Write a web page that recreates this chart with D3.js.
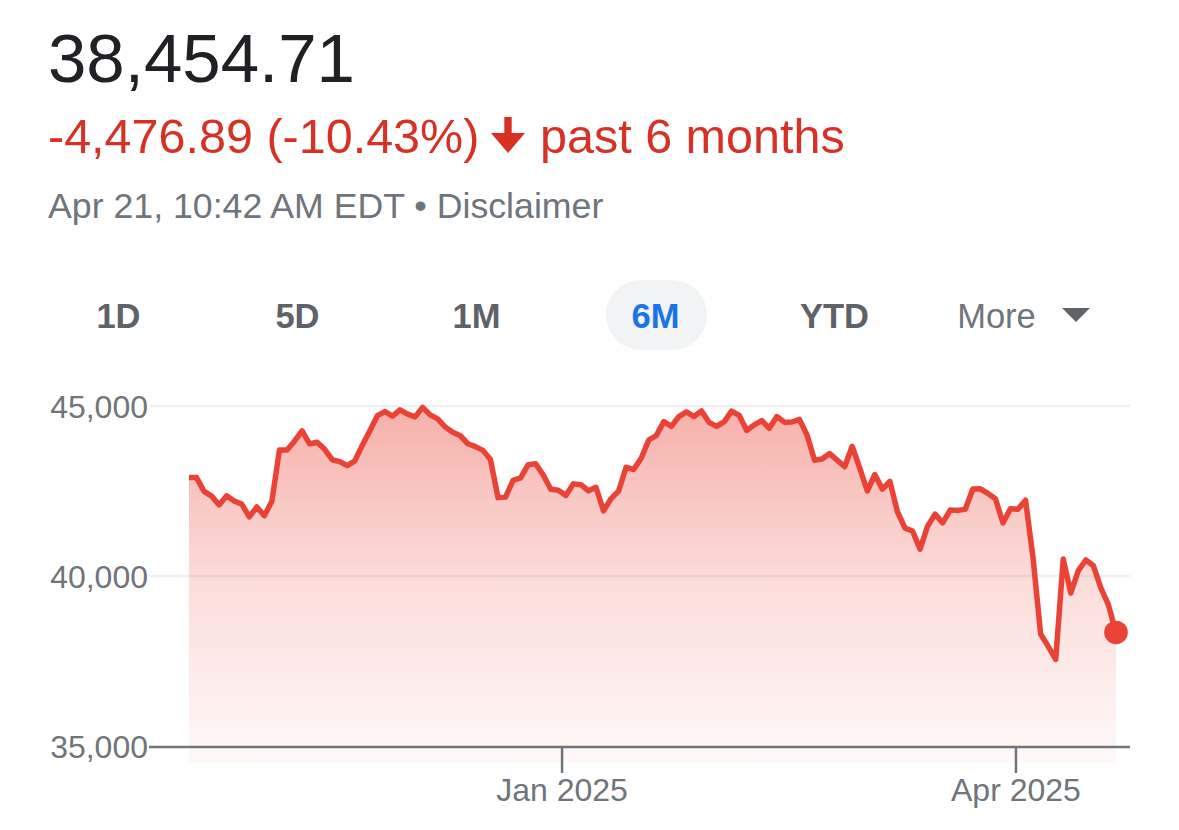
<!DOCTYPE html>
<html>
<head>
<meta charset="utf-8">
<script src="https://cdn.jsdelivr.net/npm/d3@7/dist/d3.min.js"></script>
<style>
  html, body { margin: 0; padding: 0; background: #fff; }
  svg { display: block; font-family: Arial, "Liberation Sans", Helvetica, sans-serif; }
</style>
</head>
<body>
<svg id="chart" width="1179" height="830"></svg>
<script>
// ---- Data ----
const priceText = "38,454.71";
const changeText = "-4,476.89 (-10.43%)";
const periodText = "past 6 months";
const timestampText = "Apr 21, 10:42 AM EDT • Disclaimer";
const rangeButtons = ["1D", "5D", "1M", "6M", "YTD", "More"];
const activeButton = "6M";

const dates = [
  "2024-10-21","2024-10-22","2024-10-23","2024-10-24","2024-10-25","2024-10-28","2024-10-29","2024-10-30","2024-10-31",
  "2024-11-01","2024-11-04","2024-11-05","2024-11-06","2024-11-07","2024-11-08","2024-11-11","2024-11-12","2024-11-13","2024-11-14","2024-11-15",
  "2024-11-18","2024-11-19","2024-11-20","2024-11-21","2024-11-22","2024-11-25","2024-11-26","2024-11-27","2024-11-29",
  "2024-12-02","2024-12-03","2024-12-04","2024-12-05","2024-12-06","2024-12-09","2024-12-10","2024-12-11","2024-12-12","2024-12-13",
  "2024-12-16","2024-12-17","2024-12-18","2024-12-19","2024-12-20","2024-12-23","2024-12-24","2024-12-26","2024-12-27","2024-12-30","2024-12-31",
  "2025-01-02","2025-01-03","2025-01-06","2025-01-07","2025-01-08","2025-01-10","2025-01-13","2025-01-14","2025-01-15","2025-01-16","2025-01-17",
  "2025-01-21","2025-01-22","2025-01-23","2025-01-24","2025-01-27","2025-01-28","2025-01-29","2025-01-30","2025-01-31",
  "2025-02-03","2025-02-04","2025-02-05","2025-02-06","2025-02-07","2025-02-10","2025-02-11","2025-02-12","2025-02-13","2025-02-14",
  "2025-02-18","2025-02-19","2025-02-20","2025-02-21","2025-02-24","2025-02-25","2025-02-26","2025-02-27","2025-02-28",
  "2025-03-03","2025-03-04","2025-03-05","2025-03-06","2025-03-07","2025-03-10","2025-03-11","2025-03-12","2025-03-13","2025-03-14",
  "2025-03-17","2025-03-18","2025-03-19","2025-03-20","2025-03-21","2025-03-24","2025-03-25","2025-03-26","2025-03-27","2025-03-28","2025-03-31",
  "2025-04-01","2025-04-02","2025-04-03","2025-04-04","2025-04-07","2025-04-08","2025-04-09","2025-04-10","2025-04-11",
  "2025-04-14","2025-04-15","2025-04-16","2025-04-17","2025-04-21"
];
const values = [
  42900,42895,42490,42350,42090,42360,42205,42115,41740,
  42030,41770,42200,43705,43705,43965,44270,43885,43935,43725,43420,
  43365,43245,43385,43845,44275,44715,44835,44700,44885,
  44760,44680,44960,44740,44620,44380,44225,44125,43890,43805,
  43695,43425,42305,42320,42815,42885,43275,43300,42970,42550,42520,
  42370,42710,42685,42505,42610,41915,42275,42495,43200,43130,43465,
  44000,44130,44540,44400,44690,44825,44690,44855,44520,
  44400,44535,44850,44725,44280,44445,44570,44345,44690,44525,
  44530,44605,44150,43405,43440,43600,43410,43215,43815,
  43170,42500,42985,42555,42780,41890,41410,41325,40790,41465,
  41820,41560,41940,41930,41960,42560,42565,42430,42275,41560,41980,
  41965,42230,40520,38295,37930,37545,40500,39500,40160,
  40470,40300,39640,39150,38340
];
const yTicks = [35000, 40000, 45000];
const xTickLabels = ["Jan 2025", "Apr 2025"];
const xTickBoundaries = ["2025-01-02", "2025-04-01"]; // first trading day of month

// ---- Layout ----
const svg = d3.select("#chart");
const plot = { left: 189, right: 1116, top: 406, bottom: 746 };
const axisX0 = 149, axisX1 = 1130;
const red = "#ea4335";

const x = d3.scaleLinear().domain([0, values.length - 1]).range([plot.left, plot.right]);
const y = d3.scaleLinear().domain([35000, 45000]).range([plot.bottom, plot.top]);

// ---- Header ----
svg.append("text").attr("x", 48).attr("y", 82)
  .attr("font-size", 69).attr("fill", "#202124").text(priceText);

svg.append("text").attr("x", 48).attr("y", 153)
  .attr("font-size", 48.5).attr("fill", "#d93025").text(changeText);
// down arrow
svg.append("path")
  .attr("d", "M504.3,117 H511.7 V133 H525 L508,153 L491,133 H504.3 Z")
  .attr("fill", "#d93025");
svg.append("text").attr("x", 540).attr("y", 153)
  .attr("font-size", 48.5).attr("fill", "#d93025").text(periodText);

svg.append("text").attr("x", 48).attr("y", 218)
  .attr("font-size", 35.7).attr("fill", "#70757a").text(timestampText);

// ---- Range buttons ----
const btnCenters = [118.5, 297.5, 476.5, 655.5, 834.5, 996.5];
const btnScale = d3.scaleOrdinal().domain(rangeButtons).range(btnCenters);
svg.append("rect").attr("x", 606).attr("y", 280).attr("width", 101).attr("height", 70)
  .attr("rx", 35).attr("fill", "#f1f3f4");
rangeButtons.forEach(b => {
  const isMore = b === "More";
  svg.append("text")
    .attr("x", btnScale(b)).attr("y", 328)
    .attr("text-anchor", "middle")
    .attr("font-size", 34.5)
    .attr("font-weight", isMore ? 400 : 700)
    .attr("fill", b === activeButton ? "#1a73e8" : (isMore ? "#70757a" : "#5f6368"))
    .text(b);
});
svg.append("path").attr("d", "M1062,308 H1090 L1076,322 Z").attr("fill", "#5f6368");

// ---- Gradient ----
const defs = svg.append("defs");
const grad = defs.append("linearGradient").attr("id", "fillGrad")
  .attr("gradientUnits", "userSpaceOnUse")
  .attr("x1", 0).attr("x2", 0).attr("y1", plot.top).attr("y2", 763);
grad.append("stop").attr("offset", "0%").attr("stop-color", red).attr("stop-opacity", 0.42);
grad.append("stop").attr("offset", "50%").attr("stop-color", red).attr("stop-opacity", 0.18);
grad.append("stop").attr("offset", "100%").attr("stop-color", red).attr("stop-opacity", 0.03);

// ---- Gridlines ----
yTicks.filter(t => t !== 35000).forEach(t => {
  svg.append("line").attr("x1", axisX0).attr("x2", axisX1)
    .attr("y1", y(t)).attr("y2", y(t))
    .attr("stroke", "#f1f1f1").attr("stroke-width", 2.5);
});

// ---- Area ----
const area = d3.area()
  .x((d, i) => x(i))
  .y0(763)
  .y1(d => y(d));
svg.append("path").datum(values).attr("d", area).attr("fill", "url(#fillGrad)");

// ---- Y axis labels ----
yTicks.forEach(t => {
  svg.append("text").attr("x", 148).attr("y", y(t) + 12)
    .attr("text-anchor", "end").attr("font-size", 32).attr("fill", "#70757a")
    .text(d3.format(",")(t));
});

// ---- X axis ----
svg.append("line").attr("x1", axisX0).attr("x2", axisX1)
  .attr("y1", y(35000) + 1).attr("y2", y(35000) + 1)
  .attr("stroke", "#70757a").attr("stroke-width", 2.5);
xTickBoundaries.forEach((d, k) => {
  const idx = dates.indexOf(d) - 0.5;
  const xp = x(idx) + (k === 1 ? 1.7 : 0);
  svg.append("line").attr("x1", xp).attr("x2", xp)
    .attr("y1", y(35000)).attr("y2", 773)
    .attr("stroke", "#70757a").attr("stroke-width", 2.5);
  svg.append("text").attr("x", xp).attr("y", 801)
    .attr("text-anchor", "middle").attr("font-size", 32).attr("fill", "#70757a")
    .text(xTickLabels[k]);
});

// ---- Line ----
const line = d3.line().x((d, i) => x(i)).y(d => y(d));
svg.append("path").datum(values).attr("d", line)
  .attr("fill", "none").attr("stroke", red).attr("stroke-width", 5.5)
  .attr("stroke-linejoin", "round").attr("stroke-linecap", "butt");

// ---- End dot ----
svg.append("circle").attr("cx", x(values.length - 1)).attr("cy", y(values[values.length - 1]))
  .attr("r", 11.8).attr("fill", red);
</script>
</body>
</html>
